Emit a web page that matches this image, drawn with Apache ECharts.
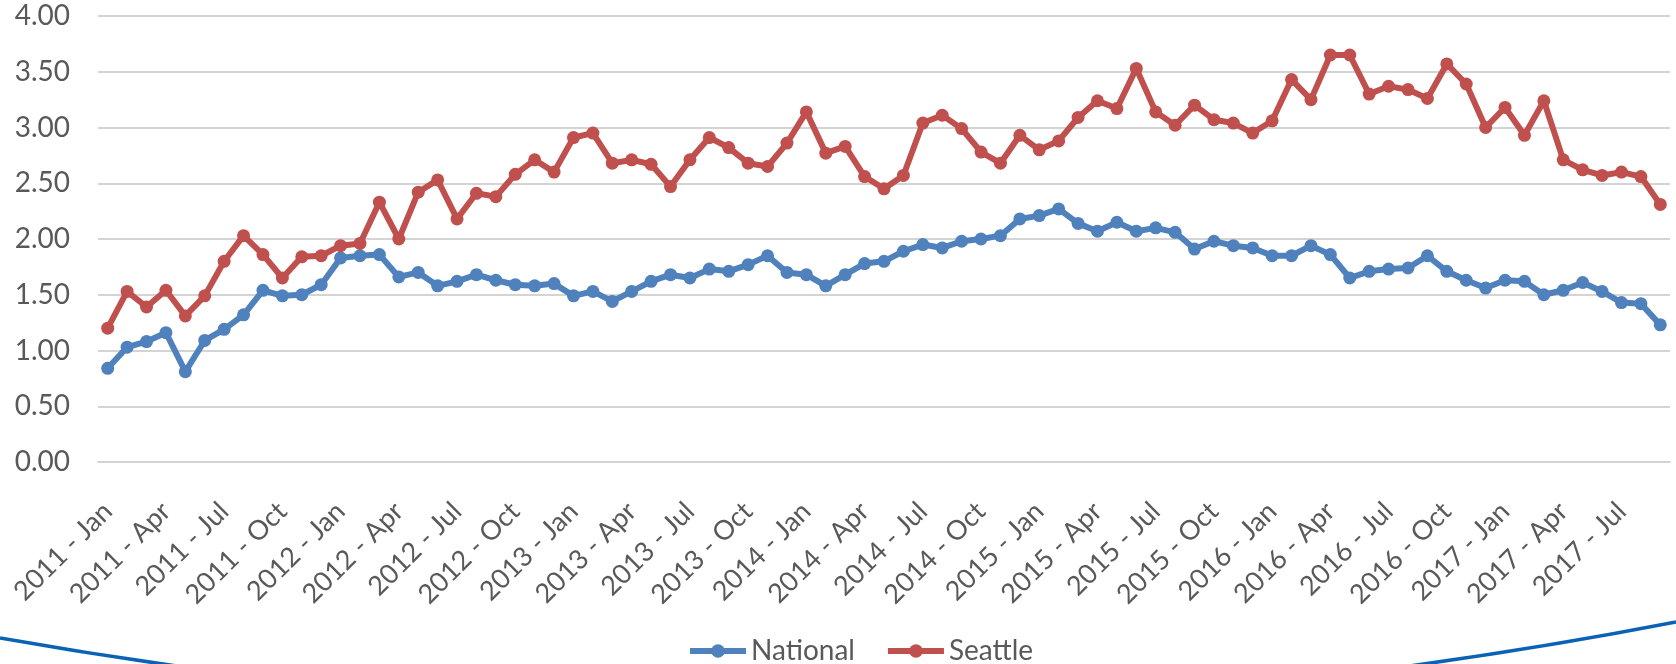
<!DOCTYPE html>
<html>
<head>
<meta charset="utf-8">
<title>National vs Seattle</title>
<script src="https://cdn.jsdelivr.net/npm/echarts@6/dist/echarts.min.js"></script>
<style>
  html, body { margin: 0; padding: 0; background: #ffffff; }
  #chart { width: 1676px; height: 664px; }
</style>
</head>
<body>
<div id="chart"></div>
<script>
// Monthly series, January 2011 through September 2017
const years = [2011, 2012, 2013, 2014, 2015, 2016, 2017];
const monthNames = ['Jan', 'Feb', 'Mar', 'Apr', 'May', 'Jun', 'Jul', 'Aug', 'Sep', 'Oct', 'Nov', 'Dec'];
const lastMonthIndex2017 = 8; // Sep

const national = [
  0.84, 1.03, 1.08, 1.16, 0.81, 1.09, 1.19, 1.32, 1.54, 1.49, 1.50, 1.59,
  1.83, 1.85, 1.86, 1.66, 1.70, 1.58, 1.62, 1.68, 1.63, 1.59, 1.58, 1.60,
  1.49, 1.53, 1.44, 1.53, 1.62, 1.68, 1.65, 1.73, 1.71, 1.77, 1.85, 1.70,
  1.68, 1.58, 1.68, 1.78, 1.80, 1.89, 1.95, 1.92, 1.98, 2.00, 2.03, 2.18,
  2.21, 2.27, 2.14, 2.07, 2.15, 2.07, 2.10, 2.06, 1.91, 1.98, 1.94, 1.92,
  1.85, 1.85, 1.94, 1.86, 1.65, 1.71, 1.73, 1.74, 1.85, 1.71, 1.63, 1.56,
  1.63, 1.62, 1.50, 1.54, 1.61, 1.53, 1.43, 1.42, 1.23
];

const seattle = [
  1.20, 1.53, 1.39, 1.54, 1.31, 1.49, 1.80, 2.03, 1.86, 1.65, 1.84, 1.85,
  1.94, 1.96, 2.33, 2.00, 2.42, 2.53, 2.18, 2.41, 2.38, 2.58, 2.71, 2.60,
  2.91, 2.95, 2.68, 2.71, 2.67, 2.47, 2.71, 2.91, 2.82, 2.68, 2.65, 2.86,
  3.14, 2.77, 2.83, 2.56, 2.45, 2.57, 3.04, 3.11, 2.99, 2.78, 2.68, 2.93,
  2.80, 2.88, 3.09, 3.24, 3.17, 3.53, 3.14, 3.02, 3.20, 3.07, 3.04, 2.95,
  3.06, 3.43, 3.25, 3.65, 3.65, 3.30, 3.37, 3.34, 3.26, 3.57, 3.39, 3.00,
  3.18, 2.93, 3.24, 2.71, 2.62, 2.57, 2.60, 2.56, 2.31
];

const yTicks = { min: 0, max: 4, interval: 0.5 };

// Category labels "YYYY - Mon"
const categories = [];
years.forEach(function (y) {
  monthNames.forEach(function (m, i) {
    if (y === 2017 && i > lastMonthIndex2017) return;
    categories.push(y + ' - ' + m);
  });
});

const FONT = 'Lato';
const TEXT = '#595959';
const GRID = '#d4d4d4';
const BLUE = '#4F81BD';
const RED = '#C0504D';

const chart = echarts.init(document.getElementById('chart'), null, { renderer: 'canvas' });

function lineSeries(name, data, color, z) {
  return {
    name: name,
    type: 'line',
    data: data,
    symbol: 'circle',
    symbolSize: 13,
    showAllSymbol: true,
    color: color,
    lineStyle: { width: 6, color: color },
    itemStyle: { color: color },
    z: z
  };
}

chart.setOption({
  animation: false,
  backgroundColor: '#ffffff',
  grid: { left: 98, right: 6, top: 16, bottom: 202, containLabel: false },
  legend: {
    left: 682,
    top: 632,
    itemWidth: 56,
    itemHeight: 17,
    itemGap: 30,
    lineStyle: { width: 6 },
    textStyle: { fontFamily: FONT, fontSize: 28, color: TEXT },
    data: ['National', 'Seattle']
  },
  xAxis: {
    type: 'category',
    data: categories,
    boundaryGap: true,
    axisLine: { show: true, lineStyle: { color: GRID, width: 2 } },
    axisTick: { show: false },
    axisLabel: {
      interval: 2,
      rotate: 45,
      margin: 45,
      fontFamily: FONT,
      fontSize: 27,
      color: TEXT
    },
    splitLine: { show: false }
  },
  yAxis: {
    type: 'value',
    min: yTicks.min,
    max: yTicks.max,
    interval: yTicks.interval,
    axisLine: { show: false },
    axisTick: { show: false },
    axisLabel: {
      margin: 28,
      fontFamily: FONT,
      fontSize: 28,
      color: TEXT,
      formatter: function (v) { return v.toFixed(2); }
    },
    splitLine: { show: true, lineStyle: { color: GRID, width: 2 } }
  },
  series: [
    lineSeries('National', national, BLUE, 2),
    lineSeries('Seattle', seattle, RED, 3)
  ],
  graphic: [
    {
      // decorative swoosh along the bottom edge
      type: 'bezierCurve',
      silent: true,
      z: -1,
      shape: { x1: 0, y1: 638, cpx1: 830, cpy1: 786, x2: 1676, y2: 622 },
      style: { stroke: '#0A62B4', lineWidth: 3.5, fill: null }
    }
  ]
});
</script>
</body>
</html>
